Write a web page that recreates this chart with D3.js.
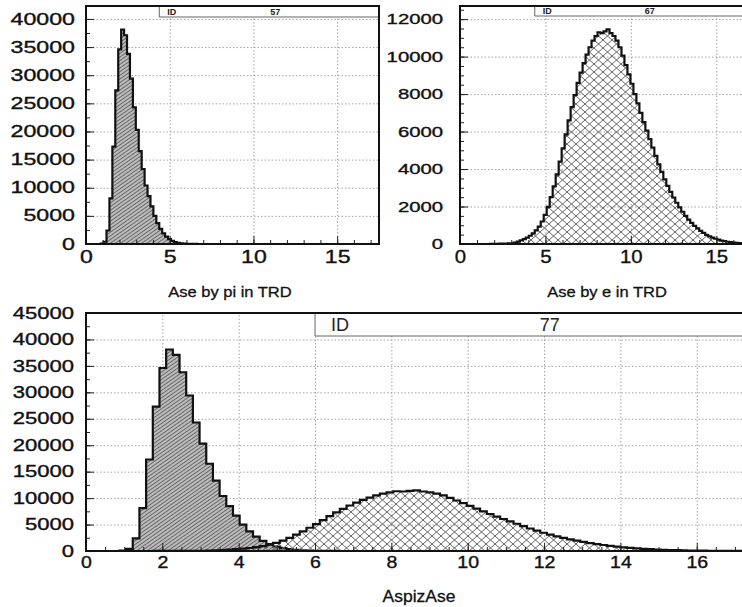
<!DOCTYPE html>
<html>
<head>
<meta charset="utf-8">
<script src="https://cdn.jsdelivr.net/npm/d3@7"></script>
<style>
  body { margin: 0; background: #fff; }
  svg { display: block; font-family: "Liberation Sans", Arial, sans-serif; }
</style>
</head>
<body>
<svg id="chart" width="742" height="607"></svg>
<script>
// PAW-style histograms: 100 bins between 0 and 17.5
const binLow = 0;
const binHigh = 17.5;
const binCount = 100;

// pion sample (ID 57), counts from bin 5 on, the rest are empty
const piFirstBin = 5;
const piCounts = [
  60, 400, 2400, 8100, 17300, 27300, 34600, 38100, 37100, 33800,
  29400, 24300, 20300, 16500, 13300, 10400, 8500, 6700, 5000, 3700,
  2700, 1900, 1300, 850, 550, 340, 200, 120, 70, 40, 20, 10, 5
];

// electron sample (ID 67), counts from bin 10 on
const eFirstBin = 10;
const eCounts = [
  5, 8, 12, 16, 20, 25, 30, 40, 80, 130,
  190, 260, 340, 440, 570, 730, 930, 1200, 1550, 1980,
  2500, 3080, 3720, 4400, 5100, 5850, 6600, 7300, 7950, 8600,
  9150, 9650, 10100, 10500, 10850, 11100, 11300, 11250, 11350, 11450,
  11250, 11100, 10850, 10500, 10050, 9550, 9050, 8550, 8000, 7500,
  7000, 6500, 6050, 5600, 5150, 4700, 4250, 3850, 3450, 3100,
  2780, 2480, 2200, 1950, 1720, 1500, 1300, 1130, 970, 830,
  700, 590, 490, 410, 340, 280, 230, 185, 150, 120,
  95, 75, 60, 45, 35, 25, 20, 15, 10, 8
];

const topXTicks = [0, 5, 10, 15];
const bottomXTicks = [0, 2, 4, 6, 8, 10, 12, 14, 16];
const piYTicks = [0, 5000, 10000, 15000, 20000, 25000, 30000, 35000, 40000];
const eYTicks = [0, 2000, 4000, 6000, 8000, 10000, 12000];
const sumYTicks = [0, 5000, 10000, 15000, 20000, 25000, 30000, 35000, 40000, 45000];

const binWidth = (binHigh - binLow) / binCount;
const toBins = (first, counts) =>
  counts.map((n, i) => ({ x0: binLow + (first + i) * binWidth, x1: binLow + (first + i + 1) * binWidth, n }));

const piBins = toBins(piFirstBin, piCounts);
const eBins = toBins(eFirstBin, eCounts);

const svg = d3.select("#chart");
const defs = svg.append("defs");

// fine diagonal hatch for pions
const hatch = defs.append("pattern")
  .attr("id", "hatch")
  .attr("patternUnits", "userSpaceOnUse")
  .attr("width", 4).attr("height", 3)
  .attr("patternTransform", "rotate(-35)");
hatch.append("rect").attr("width", 4).attr("height", 3).attr("fill", "#bdbdbd");
hatch.append("line").attr("x1", 0).attr("y1", 1.5).attr("x2", 4).attr("y2", 1.5)
  .attr("stroke", "#5e5e5e").attr("stroke-width", 0.9);

// diamond cross hatch for electrons
const cross = defs.append("pattern")
  .attr("id", "cross")
  .attr("patternUnits", "userSpaceOnUse")
  .attr("width", 9).attr("height", 8);
cross.append("path").attr("d", "M0,0L9,8M9,0L0,8")
  .attr("stroke", "#666").attr("stroke-width", 1).attr("fill", "none");

const fmt = d3.format("d");

function drawPanel(p) {
  const g = svg.append("g");
  const x = d3.scaleLinear().domain([binLow, binHigh]).range([p.left, p.left + p.width]);
  const y = d3.scaleLinear().domain([0, p.yMax]).range([p.bottom, p.top]);
  const h = p.bottom - p.top;

  // dotted grid
  g.append("g")
    .attr("transform", `translate(0,${p.bottom})`)
    .call(d3.axisBottom(x).tickValues(p.xTicks.slice(1)).tickSize(-h).tickFormat(""))
    .call((a) => a.select(".domain").remove());
  g.append("g")
    .attr("transform", `translate(${p.left},0)`)
    .call(d3.axisLeft(y).tickValues(p.yTicks.slice(1)).tickSize(-p.width).tickFormat(""))
    .call((a) => a.select(".domain").remove());
  g.selectAll(".tick line")
    .attr("stroke", "#9a9a9a")
    .attr("stroke-width", 0.9)
    .attr("stroke-dasharray", "1.5,2");

  // histograms
  const line = d3.line().x((d) => x(d[0])).y((d) => y(d[1]));
  p.series.forEach((s) => {
    const pts = [[s.bins[0].x0, 0]];
    s.bins.forEach((b) => { pts.push([b.x0, b.n], [b.x1, b.n]); });
    pts.push([s.bins[s.bins.length - 1].x1, 0]);
    g.append("path").attr("d", line(pts) + "Z").attr("fill", s.fill).attr("stroke", "none");
    g.append("path").attr("d", line(pts))
      .attr("fill", "none").attr("stroke", "#111").attr("stroke-width", 2.2)
      .attr("stroke-linejoin", "miter");
  });

  // minor ticks, inward
  g.append("g")
    .attr("transform", `translate(0,${p.bottom})`)
    .call(d3.axisBottom(x).tickValues(d3.range(0, binHigh, p.xMinor)).tickSize(-4).tickFormat(""))
    .call((a) => a.select(".domain").remove());
  g.append("g")
    .attr("transform", `translate(${p.left},0)`)
    .call(d3.axisLeft(y).tickValues(d3.range(0, p.yMax, p.yMinor)).tickSize(-4).tickFormat(""))
    .call((a) => a.select(".domain").remove());

  // major ticks and labels
  const xAxis = g.append("g")
    .attr("transform", `translate(0,${p.bottom})`)
    .call(d3.axisBottom(x).tickValues(p.xTicks).tickFormat(fmt)
      .tickSizeInner(-8).tickSizeOuter(0).tickPadding(p.xPad))
    .call((a) => a.select(".domain").remove());
  xAxis.selectAll("text")
    .attr("fill", "#111").attr("stroke", "#111").attr("stroke-width", 0.35)
    .style("font-size", `${p.xFont}px`)
    .attr("transform", `scale(${p.xStretch},1)`);

  const yAxis = g.append("g")
    .attr("transform", `translate(${p.left},0)`)
    .call(d3.axisLeft(y).tickValues(p.yTicks).tickFormat(fmt)
      .tickSizeInner(-8).tickSizeOuter(0).tickPadding(p.yPad))
    .call((a) => a.select(".domain").remove());
  yAxis.selectAll("text")
    .attr("fill", "#111").attr("stroke", "#111").attr("stroke-width", 0.35)
    .style("font-size", `${p.yFont}px`)
    .attr("x", -p.yPad / p.yStretch)
    .attr("transform", `scale(${p.yStretch},1)`);

  g.selectAll(".tick line").filter(function () { return !this.getAttribute("stroke-dasharray"); })
    .attr("stroke", "#222").attr("stroke-width", 1);

  // ID box
  const bx = x(p.idFrom);
  g.append("rect")
    .attr("x", bx).attr("y", p.top)
    .attr("width", p.left + p.width - bx).attr("height", p.idHeight)
    .attr("fill", "#fff");
  g.append("path")
    .attr("d", `M${bx},${p.top}V${p.top + p.idHeight}H${p.left + p.width}`)
    .attr("fill", "none").attr("stroke", "#666").attr("stroke-width", 1);
  g.append("text")
    .attr("x", bx + p.idPad).attr("y", p.top + p.idHeight / 2)
    .attr("dy", "0.36em")
    .style("font-size", `${p.idFont}px`)
    .style("font-weight", p.idBold ? "bold" : "normal")
    .attr("fill", "#222")
    .text("ID");
  g.append("text")
    .attr("x", x(p.idNumAt)).attr("y", p.top + p.idHeight / 2)
    .attr("dy", "0.36em")
    .attr("text-anchor", "middle")
    .style("font-size", `${p.idFont}px`)
    .style("font-weight", p.idBold ? "bold" : "normal")
    .attr("fill", "#222")
    .text(p.idNum);

  // frame
  g.append("rect")
    .attr("x", p.left).attr("y", p.top)
    .attr("width", p.width).attr("height", h)
    .attr("fill", "none").attr("stroke", "#111").attr("stroke-width", 2);

  // axis title
  g.append("text")
    .attr("transform", `translate(${p.titleX},${p.titleY}) scale(${p.titleStretch},1)`)
    .attr("text-anchor", "middle")
    .style("font-size", `${p.titleFont}px`)
    .attr("fill", "#111").attr("stroke", "#111").attr("stroke-width", 0.3)
    .text(p.title);
}

drawPanel({
  left: 86, width: 293, top: 6, bottom: 244, yMax: 42300,
  xTicks: topXTicks, xMinor: 1, yTicks: piYTicks, yMinor: 2500,
  xFont: 18.5, xStretch: 1.25, xPad: 6, yFont: 16, yStretch: 1.45, yPad: 11,
  series: [{ bins: piBins, fill: "url(#hatch)" }],
  idFrom: 4.375, idHeight: 11, idPad: 8, idNumAt: 11.3, idNum: "57", idFont: 9, idBold: true,
  title: "Ase by pi in TRD", titleX: 230, titleY: 297, titleFont: 15, titleStretch: 1.1
});

drawPanel({
  left: 460, width: 299, top: 6, bottom: 244, yMax: 12700,
  xTicks: topXTicks, xMinor: 1, yTicks: eYTicks, yMinor: 500,
  xFont: 18.5, xStretch: 1.1, xPad: 6, yFont: 14, yStretch: 1.45, yPad: 17,
  series: [{ bins: eBins, fill: "url(#cross)" }],
  idFrom: 4.375, idHeight: 10, idPad: 8, idNumAt: 11.1, idNum: "67", idFont: 9, idBold: true,
  title: "Ase by e in TRD", titleX: 607, titleY: 297, titleFont: 15, titleStretch: 1.1
});

drawPanel({
  left: 86, width: 668, top: 313, bottom: 551, yMax: 45000,
  xTicks: bottomXTicks, xMinor: 0.5, yTicks: sumYTicks, yMinor: 2500,
  xFont: 16, xStretch: 1.22, xPad: 6, yFont: 16, yStretch: 1.38, yPad: 12,
  series: [{ bins: piBins, fill: "url(#hatch)" }, { bins: eBins, fill: "url(#cross)" }],
  idFrom: 6, idHeight: 23, idPad: 16, idNumAt: 12.15, idNum: "77", idFont: 18, idBold: false,
  title: "AspizAse", titleX: 419, titleY: 602, titleFont: 17, titleStretch: 1.03
});
</script>
</body>
</html>
